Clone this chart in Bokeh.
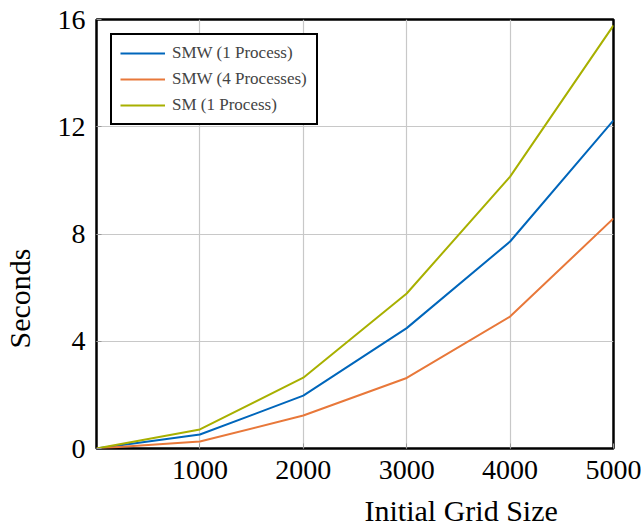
from bokeh.plotting import figure
from bokeh.models import Title, Legend, LegendItem, FixedTicker
from bokeh.embed import file_html
from bokeh.resources import INLINE

grid_size = [0, 1000, 2000, 3000, 4000, 5000]
smw_1 = [0.0, 0.52, 1.97, 4.49, 7.72, 12.24]
smw_4 = [0.0, 0.26, 1.23, 2.63, 4.92, 8.58]
sm_1 = [0.0, 0.71, 2.64, 5.78, 10.14, 15.78]

series_names = ["SMW (1 Process)", "SMW (4 Processes)", "SM (1 Process)"]
x_ticks = [1000, 2000, 3000, 4000, 5000]
y_ticks = [0, 4, 8, 12, 16]

FONT = "Liberation Serif"

p = figure(
    output_backend="svg", toolbar_location=None,
    frame_width=517, frame_height=429,
    x_range=(0, 5000), y_range=(0, 16),
    min_border_left=96, min_border_top=19, min_border_right=28, min_border_bottom=0,
)
p.background_fill_color = "white"
p.border_fill_color = "white"
p.outline_line_color = "black"
p.outline_line_width = 2.5

for ax in (p.xaxis[0], p.yaxis[0]):
    ax.axis_line_color = None
    ax.major_tick_in = 5
    ax.major_tick_out = 0
    ax.major_tick_line_color = "#999999"
    ax.minor_tick_line_color = None
    ax.major_label_text_font = FONT
    ax.major_label_text_font_size = "28px"
    ax.major_label_text_color = "black"
    # invisible spacer label to position the titles
    ax.axis_label = " "
    ax.axis_label_text_font_size = "1px"

p.xaxis[0].axis_label_standoff = 8
p.yaxis[0].axis_label_standoff = 15

p.xaxis[0].ticker = FixedTicker(ticks=x_ticks)
p.yaxis[0].ticker = FixedTicker(ticks=y_ticks)
p.xaxis[0].major_label_standoff = 12
p.yaxis[0].major_label_standoff = 11

p.xgrid.ticker = FixedTicker(ticks=x_ticks)
p.ygrid.ticker = FixedTicker(ticks=y_ticks)
for g in (p.xgrid[0], p.ygrid[0]):
    g.grid_line_color = "#c8c8c8"
    g.grid_line_width = 1.2

colors = ["#0066bb", "#e8783a", "#a8b000"]
r1 = p.line(grid_size, smw_1, line_color=colors[0], line_width=2)
r2 = p.line(grid_size, smw_4, line_color=colors[1], line_width=2)
r3 = p.line(grid_size, sm_1, line_color=colors[2], line_width=2)

legend = Legend(
    items=[LegendItem(label=series_names[0], renderers=[r1]),
           LegendItem(label=series_names[1], renderers=[r2]),
           LegendItem(label=series_names[2], renderers=[r3])],
    location="top_left", margin=14, padding=8, spacing=6,
    glyph_width=45, glyph_height=20, label_height=20, label_width=136,
    label_standoff=7,
    label_text_font=FONT, label_text_font_size="17px",
    border_line_color="black", border_line_width=2, border_line_alpha=1.0,
    background_fill_color="white", background_fill_alpha=1.0,
)
p.add_layout(legend, "center")

p.add_layout(Title(text="Initial Grid Size", align="left", offset=268,
                   vertical_align="top",
                   text_font=FONT, text_font_size="30px", text_font_style="normal",
                   text_color="black", standoff=0), "below")
p.add_layout(Title(text="Seconds", align="left", offset=100,
                   vertical_align="bottom",
                   text_font=FONT, text_font_size="30px", text_font_style="normal",
                   text_color="black", standoff=0), "left")

open("out.html", "w").write(file_html(p, INLINE))
